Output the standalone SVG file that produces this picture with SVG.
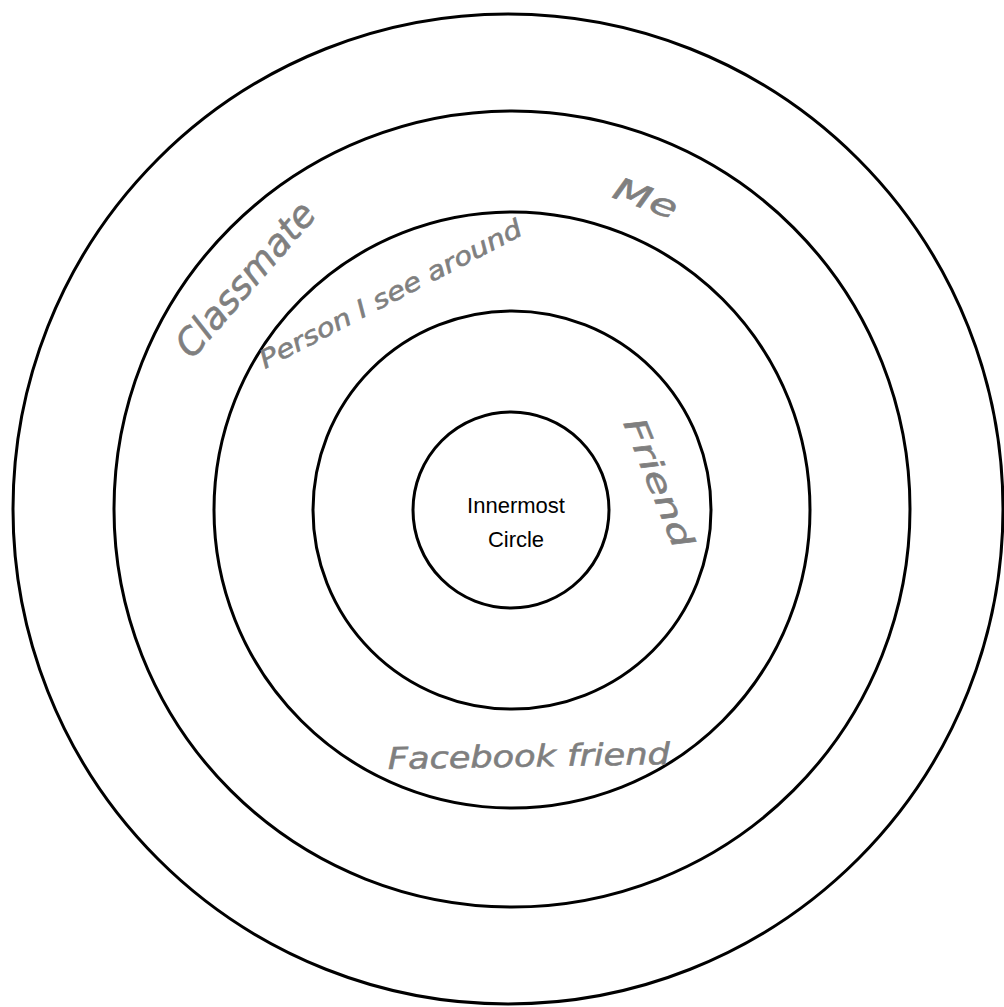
<svg xmlns="http://www.w3.org/2000/svg" width="1004" height="1007" viewBox="0 0 1004 1007">
<style>
.ring{fill:none;stroke:#000;stroke-width:3}
.hand{font-family:"DejaVu Sans",sans-serif;font-style:italic;fill:#7f7f7f;stroke:#7f7f7f;stroke-width:0.6}
.inner{font-family:"Liberation Sans",Arial,sans-serif;font-size:22px;fill:#000;text-anchor:middle}
</style>
<rect width="1004" height="1007" fill="#fff"/>
<g id="ring-outer"><circle class="ring" cx="508" cy="509" r="495"/></g>
<g id="ring-classmate"><circle class="ring" cx="512" cy="509" r="398"/></g>
<g id="ring-person"><circle class="ring" cx="512" cy="510" r="298"/></g>
<g id="ring-friend"><circle class="ring" cx="512" cy="510" r="199"/></g>
<g id="ring-inner"><circle class="ring" cx="511" cy="510" r="98"/></g>
<g id="connectors"></g>
<g id="labels">
<text class="hand" font-size="37" transform="translate(192,360) rotate(-49)" textLength="192" lengthAdjust="spacingAndGlyphs">Classmate</text>
<text class="hand" font-size="25" transform="translate(265,369) rotate(-27.5)" textLength="292" lengthAdjust="spacingAndGlyphs">Person I see around</text>
<text class="hand" font-size="31" transform="translate(611,197) rotate(20)" textLength="66" lengthAdjust="spacingAndGlyphs">Me</text>
<text class="hand" font-size="31" transform="translate(623,423) rotate(68)" textLength="137" lengthAdjust="spacingAndGlyphs">Friend</text>
<text class="hand" font-size="30" transform="translate(388,769) rotate(-1)" textLength="282" lengthAdjust="spacingAndGlyphs">Facebook friend</text>
<text class="inner" x="516" y="513">Innermost</text>
<text class="inner" x="516" y="547">Circle</text>
</g>
</svg>
